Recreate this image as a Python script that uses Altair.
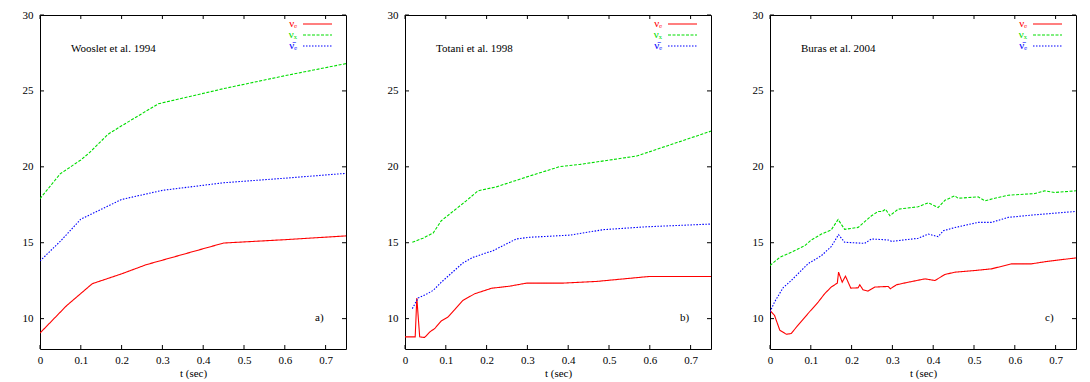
import altair as alt
import pandas as pd

# ---------------- data ----------------
X_TICKS = [0, 0.1, 0.2, 0.3, 0.4, 0.5, 0.6, 0.7]
Y_TICKS = [10, 15, 20, 25, 30]
SERIES = ["nu_e", "nu_x", "nubar_e"]
COLORS = ["#ff0000", "#00dd00", "#0000ff"]
DASHES = [[1, 0], [3, 1.5], [1.5, 1.5]]

# Panel a) Woosley et al. 1994
a_nue_t = [0, 0.065, 0.128, 0.2, 0.26, 0.45, 0.6, 0.75]
a_nue_v = [9.05, 10.85, 12.3, 12.95, 13.55, 14.98, 15.2, 15.45]
a_nux_t = [0, 0.05, 0.1, 0.12, 0.167, 0.2, 0.29, 0.45, 0.6, 0.75]
a_nux_v = [17.9, 19.55, 20.45, 20.9, 22.15, 22.7, 24.15, 25.15, 26.0, 26.8]
a_nub_t = [0, 0.05, 0.1, 0.15, 0.2, 0.3, 0.45, 0.6, 0.75]
a_nub_v = [13.8, 15.1, 16.55, 17.2, 17.85, 18.45, 18.95, 19.25, 19.57]

# Panel b) Totani et al. 1998
b_nue_t = [0, 0.025, 0.029, 0.036, 0.048, 0.061, 0.073, 0.089, 0.105, 0.122,
           0.142, 0.171, 0.212, 0.257, 0.298, 0.388, 0.469, 0.6, 0.75]
b_nue_v = [8.8, 8.8, 11.36, 8.8, 8.76, 9.13, 9.35, 9.85, 10.1, 10.6,
           11.2, 11.64, 12.0, 12.14, 12.34, 12.34, 12.45, 12.78, 12.78]
b_nux_t = [0.018, 0.044, 0.069, 0.089, 0.15, 0.179, 0.224, 0.306, 0.379, 0.429, 0.568, 0.75]
b_nux_v = [15.03, 15.3, 15.64, 16.45, 17.76, 18.42, 18.68, 19.4, 20.01, 20.16, 20.71, 22.35]
b_nub_t = [0.018, 0.032, 0.052, 0.069, 0.089, 0.142, 0.167, 0.216, 0.273, 0.306,
           0.404, 0.486, 0.592, 0.75]
b_nub_v = [10.66, 11.36, 11.6, 11.86, 12.4, 13.67, 14.04, 14.48, 15.25, 15.36,
           15.5, 15.86, 16.05, 16.23]

# Panel c) Buras et al. 2004
c_nue_t = [0, 0.011, 0.024, 0.04, 0.052, 0.065, 0.093, 0.118, 0.134, 0.15, 0.165,
           0.168, 0.177, 0.185, 0.198, 0.216, 0.22, 0.228, 0.24, 0.257, 0.29,
           0.295, 0.31, 0.339, 0.38, 0.404, 0.429, 0.453, 0.502, 0.543, 0.592,
           0.641, 0.682, 0.75]
c_nue_v = [10.55, 10.22, 9.24, 8.97, 9.02, 9.45, 10.33, 11.09, 11.64, 12.08, 12.34,
           13.06, 12.4, 12.8, 12.01, 12.03, 12.23, 11.9, 11.81, 12.08, 12.12,
           11.97, 12.23, 12.4, 12.62, 12.51, 12.91, 13.06, 13.17, 13.28, 13.61,
           13.61, 13.78, 14.0]
c_nux_t = [0, 0.024, 0.052, 0.085, 0.101, 0.126, 0.15, 0.167, 0.183, 0.216, 0.249,
           0.265, 0.275, 0.283, 0.294, 0.314, 0.363, 0.388, 0.412, 0.429, 0.453,
           0.461, 0.51, 0.527, 0.551, 0.584, 0.649, 0.674, 0.698, 0.75]
c_nux_v = [13.5, 14.04, 14.37, 14.8, 15.18, 15.57, 15.84, 16.53, 15.88, 16.01, 16.78,
           17.06, 17.06, 17.21, 16.78, 17.21, 17.37, 17.63, 17.32, 17.8, 18.09,
           17.93, 18.02, 17.76, 17.93, 18.13, 18.24, 18.42, 18.31, 18.42]
c_nub_t = [0, 0.011, 0.032, 0.052, 0.093, 0.126, 0.15, 0.168, 0.183, 0.232, 0.249,
           0.29, 0.298, 0.363, 0.388, 0.412, 0.425, 0.453, 0.51, 0.543, 0.584,
           0.649, 0.75]
c_nub_v = [10.44, 11.09, 12.03, 12.51, 13.61, 14.15, 14.74, 15.53, 15.03, 14.96, 15.25,
           15.18, 15.09, 15.29, 15.57, 15.4, 15.79, 16.0, 16.34, 16.34, 16.67,
           16.84, 17.06]

PANELS = [
    ("Wooslet et al. 1994", "a)", [(a_nue_t, a_nue_v), (a_nux_t, a_nux_v), (a_nub_t, a_nub_v)]),
    ("Totani et al. 1998", "b)", [(b_nue_t, b_nue_v), (b_nux_t, b_nux_v), (b_nub_t, b_nub_v)]),
    ("Buras et al. 2004", "c)", [(c_nue_t, c_nue_v), (c_nux_t, c_nux_v), (c_nub_t, c_nub_v)]),
]

LEG_LABELS = ["\u03bd\u2091", "\u03bd\u2093", "\u03bd\u0304\u2091"]

# ---------------- chart ----------------
W, H = 306, 334
FONT = "Liberation Serif"
TICK = 4

x_enc = alt.X("t:Q", scale=alt.Scale(domain=[0, 0.75], nice=False, zero=False),
              axis=alt.Axis(values=X_TICKS, format="~g", title="t (sec)"))
y_enc = alt.Y("v:Q", scale=alt.Scale(domain=[8, 30], nice=False, zero=False),
              axis=alt.Axis(values=Y_TICKS, title=None))


def panel(title, tag, data):
    rows = []
    for s, (ts, vs) in zip(SERIES, data):
        for t, v in zip(ts, vs):
            rows.append({"t": t, "v": v, "s": s})
    df = pd.DataFrame(rows)
    xt = pd.DataFrame({"t": X_TICKS})
    yt = pd.DataFrame({"v": Y_TICKS})
    one = pd.DataFrame({"k": [0]})

    lines = alt.Chart(df).mark_line(strokeWidth=1.1, clip=True).encode(
        x=x_enc, y=y_enc,
        color=alt.Color("s:N", scale=alt.Scale(domain=SERIES, range=COLORS), legend=None),
        strokeDash=alt.StrokeDash("s:N", scale=alt.Scale(domain=SERIES, range=DASHES), legend=None),
    )
    layers = [lines]
    # inner ticks on all four sides
    layers.append(alt.Chart(xt).mark_rule(color="black", strokeWidth=1).encode(
        x=x_enc, y=alt.value(H), y2=alt.value(H - TICK)))
    layers.append(alt.Chart(xt).mark_rule(color="black", strokeWidth=1).encode(
        x=x_enc, y=alt.value(0), y2=alt.value(TICK)))
    layers.append(alt.Chart(yt).mark_rule(color="black", strokeWidth=1).encode(
        y=y_enc, x=alt.value(0), x2=alt.value(TICK)))
    layers.append(alt.Chart(yt).mark_rule(color="black", strokeWidth=1).encode(
        y=y_enc, x=alt.value(W), x2=alt.value(W - TICK)))
    # key
    for i, (s, col, dash) in enumerate(zip(SERIES, COLORS, DASHES)):
        yy = 9 + 11 * i
        layers.append(alt.Chart(one).mark_text(
            text=LEG_LABELS[i], font=FONT, fontSize=11, color=col, align="right", baseline="middle"
        ).encode(x=alt.value(W - 49), y=alt.value(yy)))
        layers.append(alt.Chart(one).mark_rule(
            color=col, strokeWidth=1.1, strokeDash=dash
        ).encode(x=alt.value(W - 43), x2=alt.value(W - 14), y=alt.value(yy)))
    layers.append(alt.Chart(one).mark_text(
        text=title, font=FONT, fontSize=11, color="black", align="left", baseline="middle"
    ).encode(x=alt.value(31), y=alt.value(34)))
    layers.append(alt.Chart(one).mark_text(
        text=tag, font=FONT, fontSize=11, color="black", align="left", baseline="middle"
    ).encode(x=alt.value(275), y=alt.value(303)))
    return alt.layer(*layers).properties(width=W, height=H)


chart = alt.hconcat(*[panel(*p) for p in PANELS], spacing=31).configure_view(
    stroke="black", strokeWidth=1
).configure_axis(
    grid=False, ticks=False, tickSize=0, domain=False,
    labelFont=FONT, labelFontSize=11, labelColor="black", labelFlush=False,
    titleFont=FONT, titleFontSize=11, titleFontWeight="normal", titleColor="black",
).configure_axisX(
    labelPadding=5, titlePadding=2,
).configure_axisY(
    labelPadding=7, minExtent=26, maxExtent=26,
).properties(
    background="white",
    padding={"left": 5, "right": 5, "top": 0, "bottom": 0},
)

chart.save("out.html", embed_options={"renderer": "svg", "actions": False})
